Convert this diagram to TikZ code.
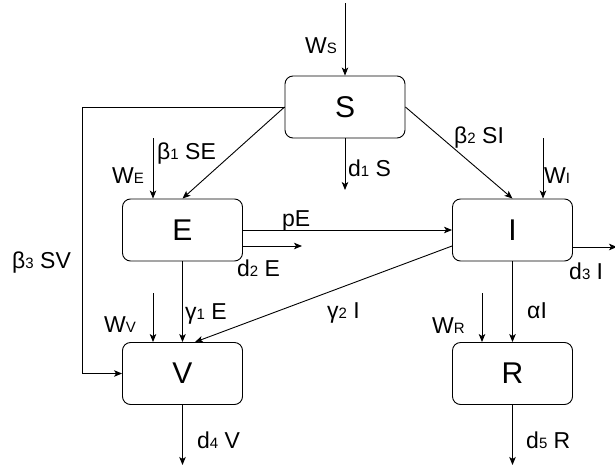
\documentclass[tikz,border=0pt]{standalone}
\usepackage{fontspec}
\setmainfont{Liberation Sans}
\usetikzlibrary{arrows.meta}
\newcommand{\sbs}[1]{{\fontsize{15}{15}\selectfont #1}}
\begin{document}
\begin{tikzpicture}[x=1pt,y=-1pt,
  box/.style={draw, line width=0.9pt, rounded corners=8pt, minimum width=120pt, minimum height=62pt, inner sep=0pt, font=\fontsize{30}{30}\selectfont},
  flow/.style={-{Stealth[length=8pt,width=6.5pt,inset=2pt]}, line width=0.9pt},
  lbl/.style={inner sep=0pt, anchor=base west, font=\fontsize{23}{23}\selectfont}]
\useasboundingbox (0,0) rectangle (615,471);
\fill[white] (0,0) rectangle (615,471);
% boxes
\node[box] (S) at (345,107) {S};
\node[box] (E) at (182.5,230) {E};
\node[box] (I) at (512.5,230) {I};
\node[box] (V) at (182.5,373.5) {V};
\node[box] (R) at (512.5,373.5) {R};
% free ends
\coordinate (ws) at (345,3);
\coordinate (d1) at (345,190);
\coordinate (bend) at (82,107);
\coordinate (we) at (153,138);
\coordinate (d2) at (302,246);
\coordinate (wi) at (543,138);
\coordinate (d3) at (617,247);
\coordinate (wv) at (153,293);
\coordinate (d4) at (182.5,465);
\coordinate (wr) at (482,293);
\coordinate (d5) at (512.5,465);
% connectors
\draw[flow] (ws) -- (S.north);
\draw[flow] (S.south) -- (d1);
\draw[flow] (S.west) -- (E.north);
\draw[flow] (S.west) -- (bend) |- (V.west);
\draw[flow] (we) -- (we |- E.north);
\draw[flow] (E.east) -- (I.west);
\draw[flow] ([yshift=-16pt]E.east) -- (d2);
\draw[flow] (S.east) -- (I.north);
\draw[flow] (wi) -- (wi |- I.north);
\draw[flow] ([yshift=-17pt]I.east) -- (d3);
\draw[flow] ([yshift=-16pt]I.west) -- ([xshift=12.5pt]V.north);
\draw[flow] (E.south) -- (V.north);
\draw[flow] (wv) -- (wv |- V.north);
\draw[flow] (V.south) -- (d4);
\draw[flow] (I.south) -- (R.north);
\draw[flow] (wr) -- (wr |- R.north);
\draw[flow] (R.south) -- (d5);
% labels
\node[lbl] (lws) at (305,53) {W\sbs{S}};
\node[lbl] (ld1) at (348,176) {d\sbs{1} S};
\node[lbl] (lb1) at (157,159) {β\sbs{1} SE};
\node[lbl] (lwe) at (112,183) {W\sbs{E}};
\node[lbl] (lb3) at (12,268) {β\sbs{3} SV};
\node[lbl] (lpe) at (282,226) {pE};
\node[lbl] (ld2) at (237,276) {d\sbs{2} E};
\node[lbl] (lb2) at (454,143) {β\sbs{2} SI};
\node[lbl] (lwi) at (544,183) {W\sbs{I}};
\node[lbl] (ld3) at (569,279) {d\sbs{3} I};
\node[lbl] (lg2) at (327,318) {γ\sbs{2} I};
\node[lbl] (lg1) at (185,319) {γ\sbs{1} E};
\node[lbl] (lwv) at (104,332) {W\sbs{V}};
\node[lbl] (ld4) at (197,448) {d\sbs{4} V};
\node[lbl] (lai) at (527,318) {αI};
\node[lbl] (lwr) at (432,333) {W\sbs{R}};
\node[lbl] (ld5) at (526,448) {d\sbs{5} R};
\end{tikzpicture}
\end{document}
